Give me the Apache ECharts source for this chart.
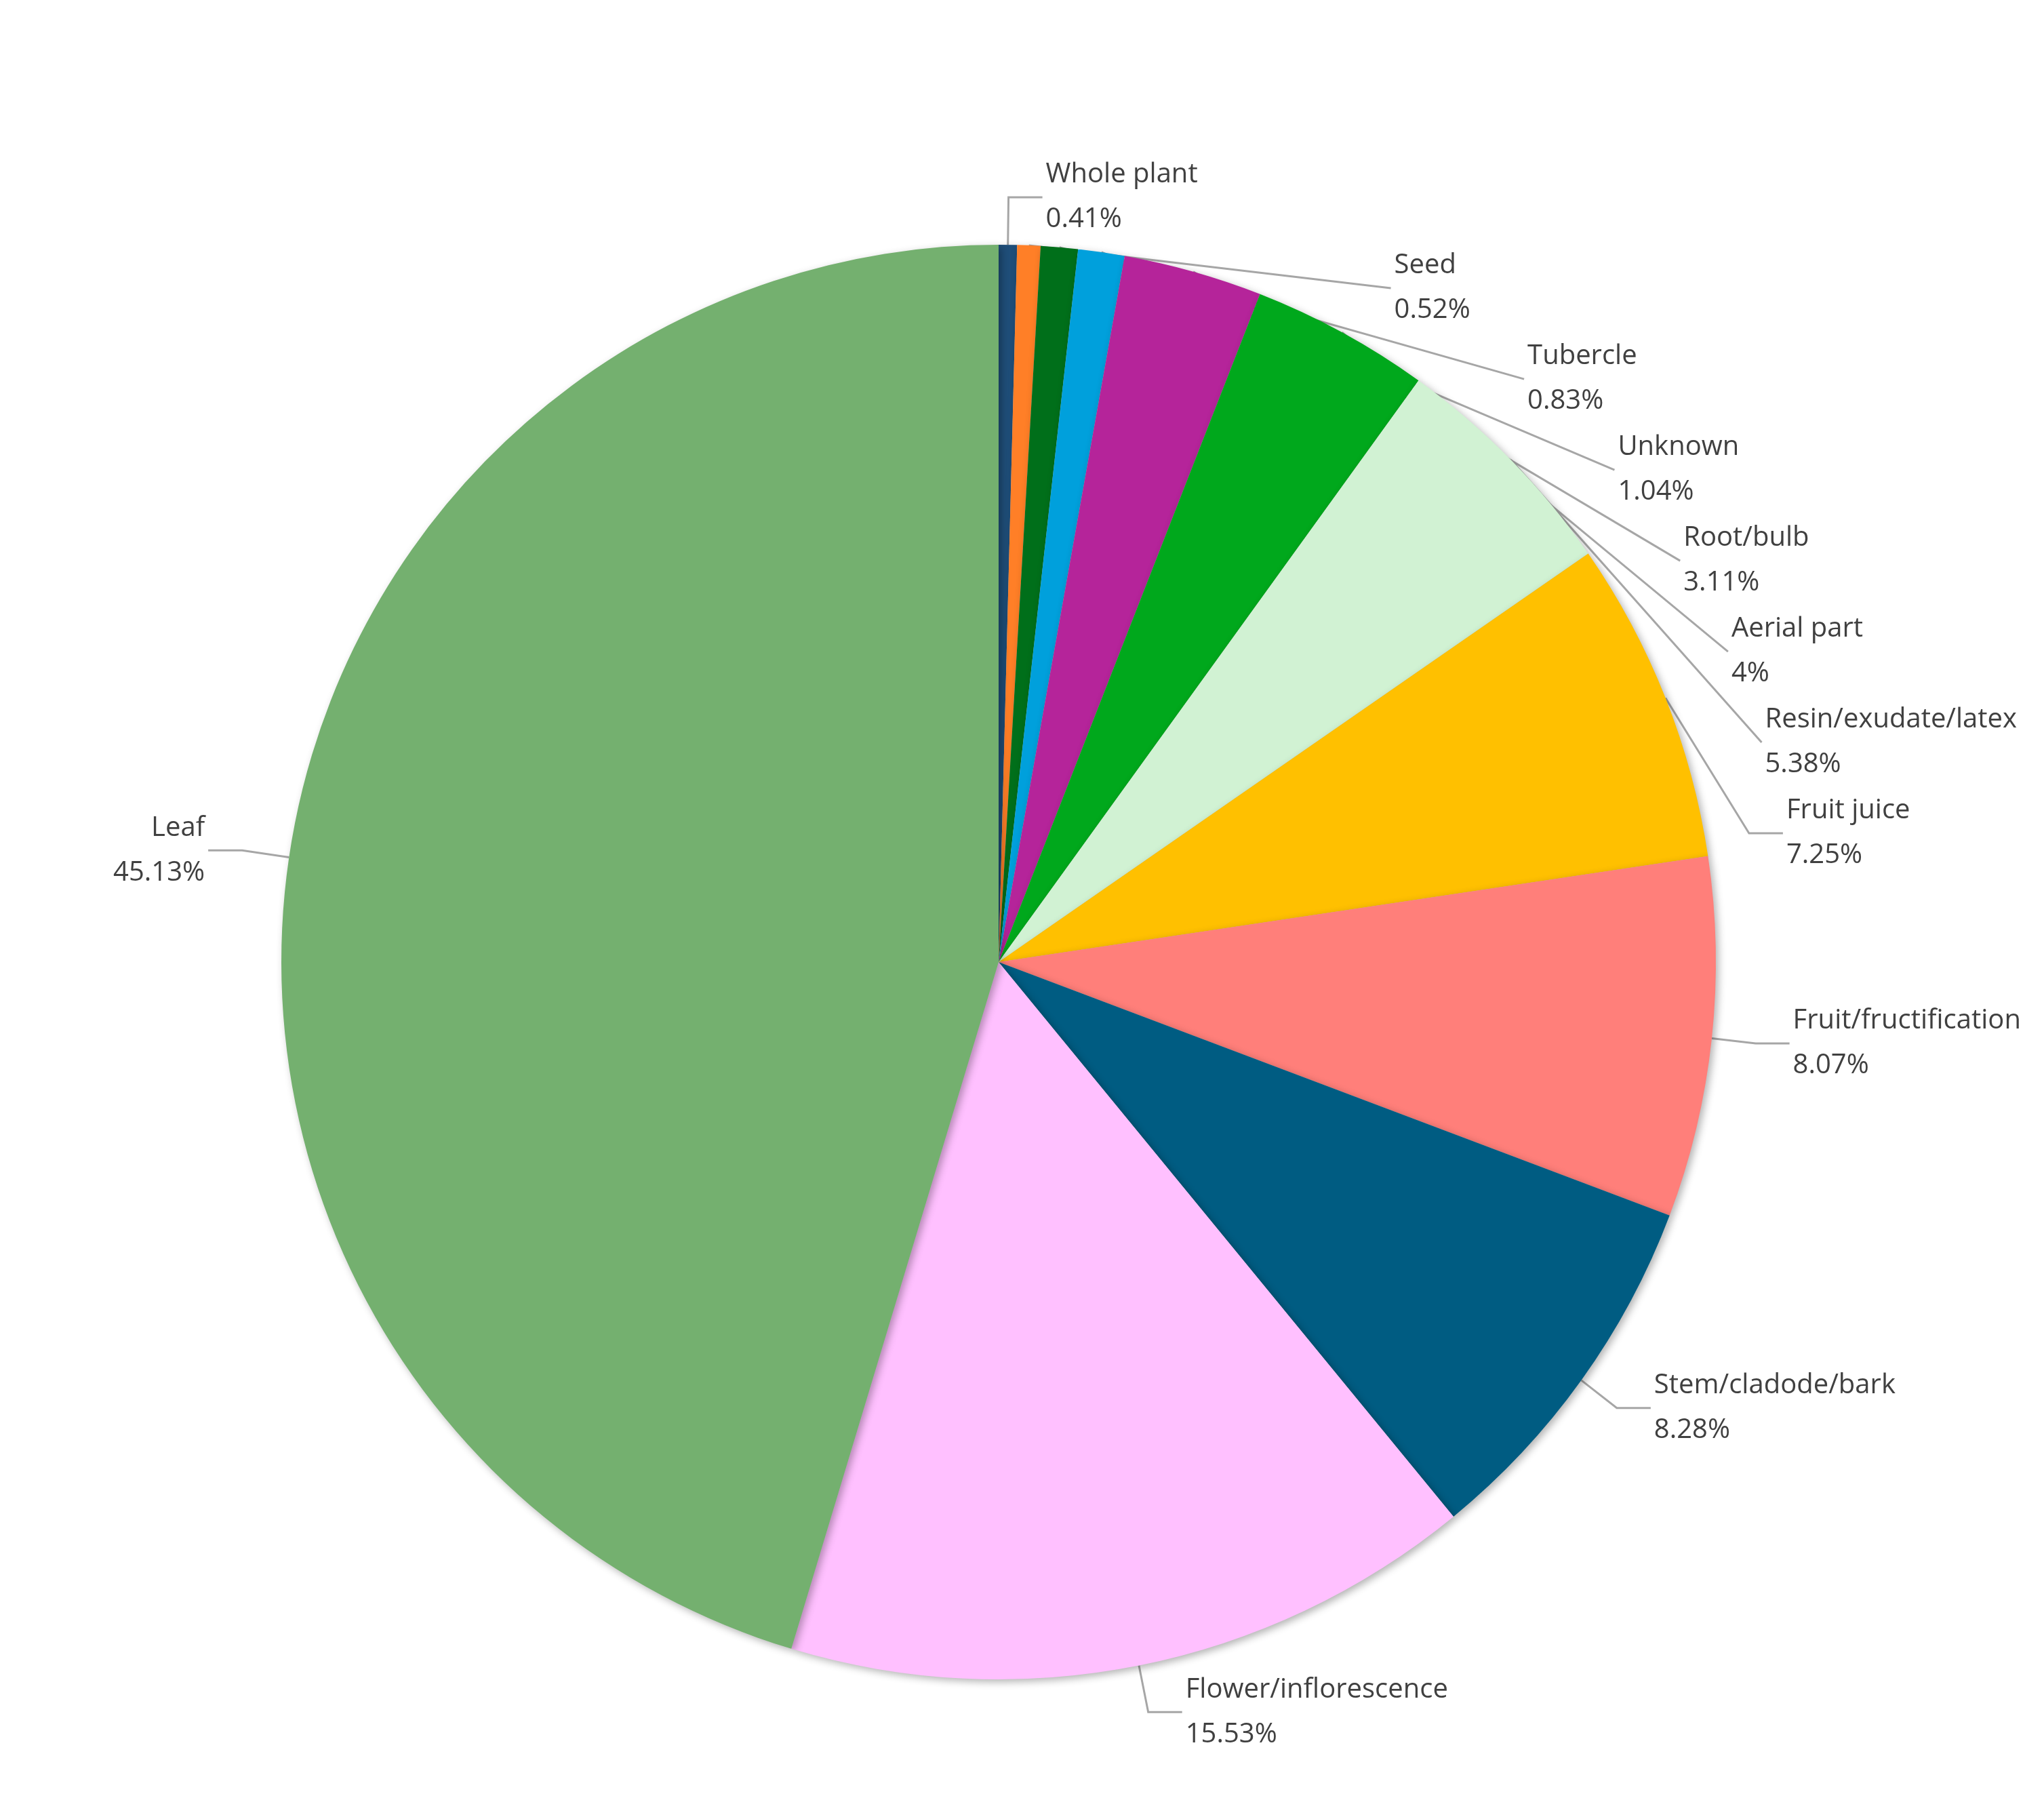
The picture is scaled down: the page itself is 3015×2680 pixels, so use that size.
<!DOCTYPE html>
<html><head><meta charset="utf-8">
<script src="https://cdn.jsdelivr.net/npm/echarts@6/dist/echarts.min.js"></script>
<style>html,body{margin:0;padding:0;background:#fff}#c{width:3015px;height:2680px}</style>
</head><body><div id="c"></div>
<script>
const categories=["Whole plant","Seed","Tubercle","Unknown","Root/bulb","Aerial part","Resin/exudate/latex","Fruit juice","Fruit/fructification","Stem/cladode/bark","Flower/inflorescence","Leaf"];
const values=[0.41,0.52,0.83,1.04,3.11,4,5.38,7.25,8.07,8.28,15.53,45.13];
const colors=["#1f4e79","#ff7f27","#006f1a","#00a0dc","#b5249a","#00a81c","#d1f2d3","#ffc000","#ff7f7a","#005c82","#ffc0ff","#74b06f"];
const chart=echarts.init(document.getElementById('c'));
chart.setOption({
  animation:false,
  series:[{
    type:'pie',
    center:[1473,1419],
    radius:1058,
    startAngle:90,
    clockwise:true,
    data:categories.map((n,i)=>({name:n,value:values[i],itemStyle:{color:colors[i]}})),
    itemStyle:{shadowBlur:12,shadowColor:'rgba(0,0,0,0.3)',shadowOffsetX:4,shadowOffsetY:4},
    label:{formatter:p=>p.name+'\n'+p.value+'%',fontFamily:'Open Sans',fontSize:40,color:'#404040',lineHeight:66,align:'center'},
    labelLine:{length:70,length2:50,lineStyle:{color:'#a6a6a6',width:3}},
    emphasis:{disabled:true}
  }]
});
</script></body></html>
